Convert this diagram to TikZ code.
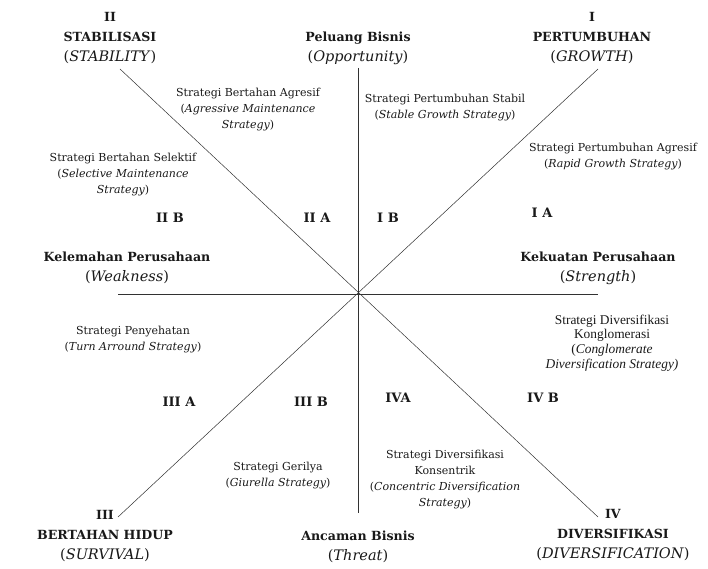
\documentclass[tikz,border=0pt]{standalone}
\usepackage{fontspec}
\setmainfont{DejaVu Serif}
\newfontfamily\antiqua{Liberation Serif}
\definecolor{garis}{RGB}{50,50,50}
\definecolor{tinta}{RGB}{25,25,25}
\newcommand{\inggris}[1]{{\fontsize{14.5}{20}\selectfont(\textit{#1})}}

\begin{document}
\begin{tikzpicture}[x=1pt, y=-1pt, tinta,
		judul/.style={align=center, font=\fontsize{12.6}{20}\selectfont},
		strategi/.style={align=center, font=\fontsize{11}{16}\selectfont},
		kuadran/.style={font=\bfseries\fontsize{13}{15}\selectfont},
		sumbu/.style={garis, line width=0.8pt},
		diagonal/.style={garis, line width=0.5pt}]

	\useasboundingbox (0,0) rectangle (708,569);

	% sumbu dan diagonal
	\coordinate (O) at (358,294);
	\coordinate (N) at (358,68);
	\coordinate (S) at (358,513);
	\coordinate (W) at (118,294);
	\coordinate (E) at (598,294);
	\coordinate (NW) at (120,69);
	\coordinate (NE) at (598,69);
	\coordinate (SW) at (118,517);
	\coordinate (SE) at (598,517);

	\draw[sumbu] (N) -- (S);
	\draw[sumbu] (W) -- (E);
	\draw[diagonal] (NW) -- (SE);
	\draw[diagonal] (SW) -- (NE);

	% judul
	\node[judul] (stabil) at (110,38) {\textbf{II}\\\textbf{STABILISASI}\\\inggris{STABILITY}};
	\node[judul] (peluang) at (358,48) {\textbf{Peluang Bisnis}\\\inggris{Opportunity}};
	\node[judul] (tumbuh) at (592,38) {\textbf{I}\\\textbf{PERTUMBUHAN}\\\inggris{GROWTH}};
	\node[judul] (lemah) at (127,268) {\textbf{Kelemahan Perusahaan}\\\inggris{Weakness}};
	\node[judul] (kuat) at (598,268) {\textbf{Kekuatan Perusahaan}\\\inggris{Strength}};
	\node[judul] (hidup) at (105,536) {\textbf{III}\\\textbf{BERTAHAN HIDUP}\\\inggris{SURVIVAL}};
	\node[judul] (ancaman) at (358,547) {\textbf{Ancaman Bisnis}\\\inggris{Threat}};
	\node[judul] (diversi) at (613,535) {\textbf{IV}\\\textbf{DIVERSIFIKASI}\\\inggris{DIVERSIFICATION}};

	% strategi
	\node[strategi] (agresif) at (248,110) {Strategi Bertahan Agresif\\(\textit{Agressive Maintenance}\\\textit{Strategy})};
	\node[strategi] (selektif) at (123,175) {Strategi Bertahan Selektif\\(\textit{Selective Maintenance}\\\textit{Strategy})};
	\node[strategi] (stabilgrowth) at (445,108) {Strategi Pertumbuhan Stabil\\(\textit{Stable Growth Strategy})};
	\node[strategi] (rapid) at (613,157) {Strategi Pertumbuhan Agresif\\(\textit{Rapid Growth Strategy})};
	\node[strategi] (sehat) at (133,340) {Strategi Penyehatan\\(\textit{Turn Arround Strategy})};
	\node[strategi] (gerilya) at (278,476) {Strategi Gerilya\\(\textit{Giurella Strategy})};
	\node[align=center, font=\antiqua\fontsize{13.4}{14.6}\selectfont] (konglo) at (612,343) {Strategi Diversifikasi\\Konglomerasi\\(\textit{Conglomerate}\\\textit{Diversification Strategy)}};
	\node[strategi] (konsen) at (445,480) {Strategi Diversifikasi\\Konsentrik\\(\textit{Concentric Diversification}\\\textit{Strategy})};

	% kuadran
	\node[kuadran] (IIB) at (170,218) {II B};
	\node[kuadran] (IIA) at (317,218) {II A};
	\node[kuadran] (IB) at (388,218) {I B};
	\node[kuadran] (IA) at (542,213) {I A};
	\node[kuadran] (IIIA) at (179,402) {III A};
	\node[kuadran] (IIIB) at (311,402) {III B};
	\node[kuadran] (IVA) at (398,398) {IVA};
	\node[kuadran] (IVB) at (543,398) {IV B};

\end{tikzpicture}
\end{document}
